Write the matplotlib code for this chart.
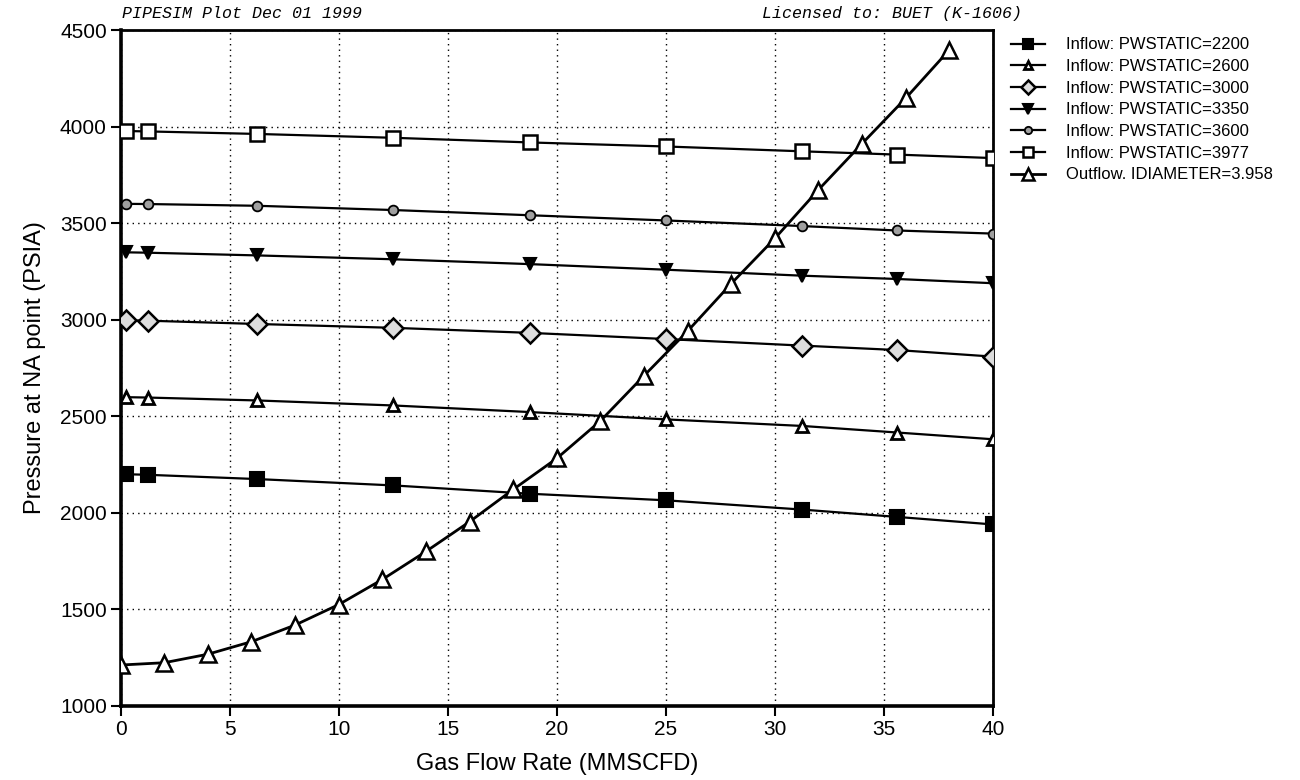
import numpy as np
import matplotlib
matplotlib.use("Agg")
import matplotlib.pyplot as plt

# Inflow (IPR) curves
q_in = [0.25, 1.25, 6.25, 12.5, 18.75, 25, 31.25, 35.6, 40]
p_2200 = [2200, 2197, 2175, 2142, 2099, 2065, 2017, 1979, 1940]
p_2600 = [2599, 2597, 2582, 2556, 2522, 2484, 2450, 2416, 2381]
p_3000 = [2997, 2995, 2978, 2958, 2932, 2900, 2866, 2843, 2809]
p_3350 = [3349, 3347, 3333, 3313, 3288, 3259, 3228, 3211, 3189]
p_3600 = [3600, 3599, 3590, 3568, 3541, 3514, 3485, 3462, 3446]
p_3977 = [3977, 3975, 3962, 3942, 3918, 3897, 3872, 3855, 3837]

# Outflow (tubing) curve
q_out = [0, 2, 4, 6, 8, 10, 12, 14, 16, 18, 20, 22, 24, 26, 28, 30, 32, 34, 36, 38]
p_out = [1212, 1224, 1268, 1333, 1419, 1525, 1655, 1800, 1954, 2121,
         2282, 2476, 2710, 2941, 3187, 3421, 3673, 3912, 4147, 4397]

labels = ['Inflow: PWSTATIC=2200', 'Inflow: PWSTATIC=2600', 'Inflow: PWSTATIC=3000',
          'Inflow: PWSTATIC=3350', 'Inflow: PWSTATIC=3600', 'Inflow: PWSTATIC=3977',
          'Outflow. IDIAMETER=3.958']

plt.rcParams['font.family'] = ['Liberation Sans', 'DejaVu Sans']

fig = plt.figure(figsize=(13, 7.8), dpi=100)
ax = fig.add_axes([0.0928, 0.0949, 0.671, 0.8666])

# marker styles: (marker, size, face, edge width)
styles = [('s', 10, 'black', 1.5),
          ('^', 8.5, 'white', 2.0),
          ('D', 10, '#dcdcdc', 1.8),
          ('v', 9, 'black', 1.5),
          ('o', 7, '#a0a0a0', 1.3),
          ('s', 10.5, 'white', 1.8)]
series = [p_2200, p_2600, p_3000, p_3350, p_3600, p_3977]

for p, (m, ms, fc, mew), lab in zip(series, styles, labels):
    ax.plot(q_in, p, color='black', lw=1.6, marker=m, ms=ms, mfc=fc, mec='black',
            mew=mew, label=lab, zorder=3)

ax.plot(q_out, p_out, color='black', lw=2, marker='^', ms=11, mfc='white', mec='black',
        mew=1.8, label=labels[6], zorder=4)

ax.set_xlim(0, 40)
ax.set_ylim(1000, 4500)
ax.set_xticks(np.arange(0, 41, 5))
ax.set_yticks(np.arange(1000, 4501, 500))
ax.grid(True, color='black', linestyle=(0, (1, 3)), lw=1)
ax.tick_params(direction='out', length=7, width=1.5, labelsize=15, pad=3)

for side in ['left', 'bottom']:
    ax.spines[side].set_linewidth(2.6)
for side in ['top', 'right']:
    ax.spines[side].set_linewidth(2.0)

ax.set_xlabel('Gas Flow Rate (MMSCFD)', fontsize=17, labelpad=10)
ax.set_ylabel('Pressure at NA point (PSIA)', fontsize=17, labelpad=10)

fig.text(0.0935, 0.9825, 'PIPESIM Plot Dec 01 1999', family='Liberation Mono',
         style='italic', fontsize=12, va='center', ha='left')
fig.text(0.786, 0.9825, 'Licensed to: BUET (K-1606)', family='Liberation Mono',
         style='italic', fontsize=12, va='center', ha='right')

ax.legend(loc='upper left', bbox_to_anchor=(0.778, 0.952), bbox_transform=fig.transFigure,
          frameon=False, fontsize=12, handlelength=2.0, handletextpad=1.3,
          labelspacing=0.4, markerscale=0.75, borderpad=0, borderaxespad=0)

fig.savefig('out.png', dpi=100, facecolor='white')
